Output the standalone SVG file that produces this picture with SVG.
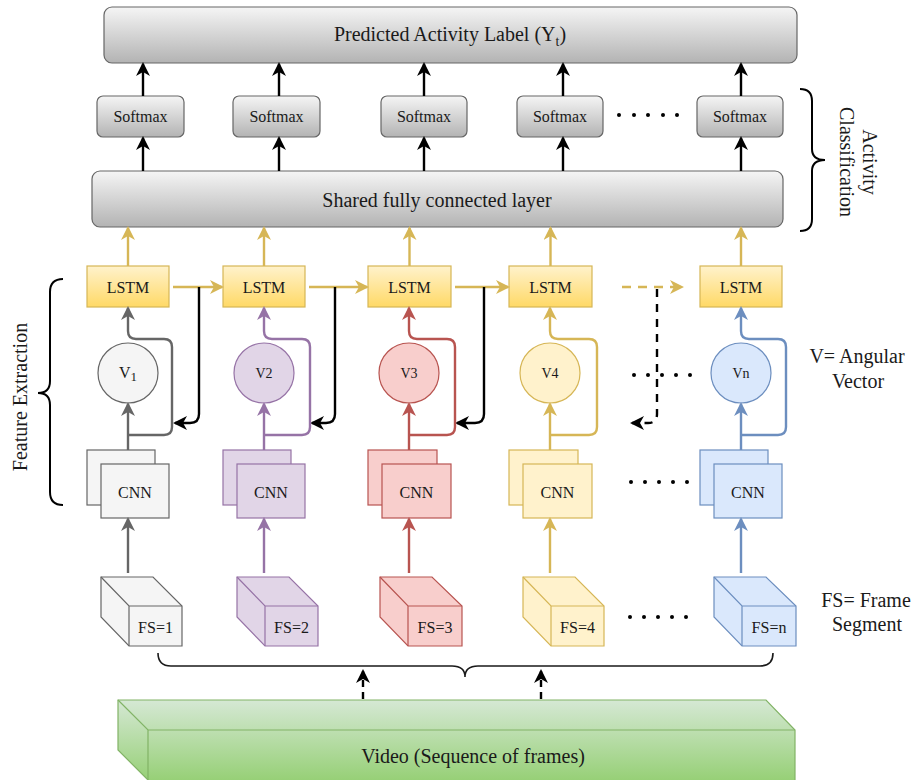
<svg xmlns="http://www.w3.org/2000/svg" width="915" height="780" viewBox="0 0 915 780">
  <defs>
    <linearGradient id="gGray" x1="0" y1="0" x2="0" y2="1">
      <stop offset="0" stop-color="#f5f5f5"/>
      <stop offset="1" stop-color="#b3b3b3"/>
    </linearGradient>
    <linearGradient id="gLstm" x1="0" y1="0" x2="0" y2="1">
      <stop offset="0" stop-color="#fff2cc"/>
      <stop offset="1" stop-color="#ffd966"/>
    </linearGradient>
    <linearGradient id="gVideo" gradientUnits="userSpaceOnUse" x1="0" y1="700" x2="0" y2="780">
      <stop offset="0" stop-color="#d5e8d4"/>
      <stop offset="1" stop-color="#97d077"/>
    </linearGradient>
    <marker id="aBlack" viewBox="0 0 14 14" refX="12" refY="7" markerWidth="14" markerHeight="14" markerUnits="userSpaceOnUse" orient="auto">
      <path d="M0,0 L14,7 L0,14 L4,7 Z" fill="#000"/>
    </marker>
    <marker id="aYellow" viewBox="0 0 14 14" refX="12" refY="7" markerWidth="14" markerHeight="14" markerUnits="userSpaceOnUse" orient="auto">
      <path d="M0,0 L14,7 L0,14 L4,7 Z" fill="#d6b656"/>
    </marker>
    <marker id="aGray" viewBox="0 0 14 14" refX="12" refY="7" markerWidth="14" markerHeight="14" markerUnits="userSpaceOnUse" orient="auto">
      <path d="M0,0 L14,7 L0,14 L4,7 Z" fill="#666666"/>
    </marker>
    <marker id="aPurple" viewBox="0 0 14 14" refX="12" refY="7" markerWidth="14" markerHeight="14" markerUnits="userSpaceOnUse" orient="auto">
      <path d="M0,0 L14,7 L0,14 L4,7 Z" fill="#9673a6"/>
    </marker>
    <marker id="aRed" viewBox="0 0 14 14" refX="12" refY="7" markerWidth="14" markerHeight="14" markerUnits="userSpaceOnUse" orient="auto">
      <path d="M0,0 L14,7 L0,14 L4,7 Z" fill="#b85450"/>
    </marker>
    <marker id="aBlue" viewBox="0 0 14 14" refX="12" refY="7" markerWidth="14" markerHeight="14" markerUnits="userSpaceOnUse" orient="auto">
      <path d="M0,0 L14,7 L0,14 L4,7 Z" fill="#6c8ebf"/>
    </marker>
  </defs>
  <style>
    text { font-family: "Liberation Serif", "Times New Roman", serif; fill: #1a1a1a; }
    .t20 { font-size: 20px; }
    .t16 { font-size: 16px; }
    .t14 { font-size: 14px; }
    .mid { text-anchor: middle; }
    .grayBox { fill: url(#gGray); stroke: #666666; stroke-width: 1.2; }
    .lstm { fill: url(#gLstm); stroke: #d6b656; stroke-width: 1.2; }
    .c1 { fill: #f5f5f5; stroke: #666666; stroke-width: 1.2; }
    .c2 { fill: #e1d5e7; stroke: #9673a6; stroke-width: 1.2; }
    .c3 { fill: #f8cecc; stroke: #b85450; stroke-width: 1.2; }
    .c4 { fill: #fff2cc; stroke: #d6b656; stroke-width: 1.2; }
    .c5 { fill: #dae8fc; stroke: #6c8ebf; stroke-width: 1.2; }
    .ln { fill: none; }
    .edge { fill: none; stroke-width: 2.4; }
    .k { stroke: #000; }
    .y { stroke: #d6b656; }
    .s1 { stroke: #666666; }
    .s2 { stroke: #9673a6; }
    .s3 { stroke: #b85450; }
    .s4 { stroke: #d6b656; }
    .s5 { stroke: #6c8ebf; }
    .brace { fill: none; stroke: #000; stroke-width: 2; }
    .dot { fill: #000; }
  </style>

  <!-- classification head -->
  <g id="predicted-label">
    <rect class="grayBox" x="104" y="7" width="693" height="56" rx="8"/>
    <text class="t20 mid" x="450" y="41">Predicted Activity Label (Y<tspan font-size="14" dy="5">t</tspan><tspan dy="-5">)</tspan></text>
  </g>
  <g id="softmax-1"><rect class="grayBox" x="97" y="96" width="87" height="41" rx="6"/><text class="t16 mid" x="140.5" y="122">Softmax</text></g>
  <g id="softmax-2"><rect class="grayBox" x="233" y="96" width="87" height="41" rx="6"/><text class="t16 mid" x="276.5" y="122">Softmax</text></g>
  <g id="softmax-3"><rect class="grayBox" x="381" y="96" width="86" height="41" rx="6"/><text class="t16 mid" x="424" y="122">Softmax</text></g>
  <g id="softmax-4"><rect class="grayBox" x="517" y="96" width="86" height="41" rx="6"/><text class="t16 mid" x="560" y="122">Softmax</text></g>
  <g id="softmax-n"><rect class="grayBox" x="697" y="96" width="86" height="41" rx="6"/><text class="t16 mid" x="740" y="122">Softmax</text></g>
  <g id="fc-layer">
    <rect class="grayBox" x="92" y="171" width="691" height="56" rx="8"/>
    <text class="t20 mid" x="437" y="207">Shared fully connected layer</text>
  </g>

  <!-- LSTM chain -->
  <g id="lstm-1"><rect class="lstm" x="87" y="266" width="82" height="41"/><text class="t16 mid" x="128" y="293">LSTM</text></g>
  <g id="lstm-2"><rect class="lstm" x="223" y="266" width="82" height="41"/><text class="t16 mid" x="264" y="293">LSTM</text></g>
  <g id="lstm-3"><rect class="lstm" x="368" y="266" width="83" height="41"/><text class="t16 mid" x="409.5" y="293">LSTM</text></g>
  <g id="lstm-4"><rect class="lstm" x="509" y="266" width="83" height="41"/><text class="t16 mid" x="550.5" y="293">LSTM</text></g>
  <g id="lstm-n"><rect class="lstm" x="700" y="266" width="82" height="41"/><text class="t16 mid" x="741" y="293">LSTM</text></g>

  <!-- angular vectors -->
  <g id="v-1"><circle class="c1" cx="128" cy="373" r="30"/><text class="t16 mid" x="128" y="378">V<tspan font-size="13" dy="3">1</tspan></text></g>
  <g id="v-2"><circle class="c2" cx="264" cy="373" r="30"/><text class="t14 mid" x="264" y="378">V2</text></g>
  <g id="v-3"><circle class="c3" cx="409" cy="373" r="30"/><text class="t14 mid" x="409" y="378">V3</text></g>
  <g id="v-4"><circle class="c4" cx="550" cy="373" r="30"/><text class="t14 mid" x="550" y="378">V4</text></g>
  <g id="v-n"><circle class="c5" cx="741" cy="373" r="30"/><text class="t14 mid" x="741" y="378">Vn</text></g>

  <!-- CNN stacks -->
  <g id="cnn-1"><rect class="c1" x="87" y="450" width="68" height="55"/><rect class="c1" x="101" y="464" width="68" height="54"/><text class="t16 mid" x="135" y="498">CNN</text></g>
  <g id="cnn-2"><rect class="c2" x="223" y="450" width="68" height="55"/><rect class="c2" x="237" y="464" width="68" height="54"/><text class="t16 mid" x="271" y="498">CNN</text></g>
  <g id="cnn-3"><rect class="c3" x="368" y="450" width="69" height="55"/><rect class="c3" x="382" y="464" width="69" height="54"/><text class="t16 mid" x="416.5" y="498">CNN</text></g>
  <g id="cnn-4"><rect class="c4" x="509" y="450" width="69" height="55"/><rect class="c4" x="523" y="464" width="69" height="54"/><text class="t16 mid" x="557.5" y="498">CNN</text></g>
  <g id="cnn-n"><rect class="c5" x="700" y="450" width="68" height="55"/><rect class="c5" x="714" y="464" width="68" height="54"/><text class="t16 mid" x="748" y="498">CNN</text></g>

  <!-- frame segments (cubes): outline, then inner edges -->
  <g id="fs-1">
    <path class="c1" d="M101,577 L153,577 L182,606 L182,646 L129,646 L101,617 Z"/>
    <path class="c1 ln" d="M101,577 L129,606 L182,606 M129,606 L129,646"/>
    <text class="t16 mid" x="155.5" y="633">FS=1</text>
  </g>
  <g id="fs-2">
    <path class="c2" d="M237,577 L289,577 L318,606 L318,646 L265,646 L237,617 Z"/>
    <path class="c2 ln" d="M237,577 L265,606 L318,606 M265,606 L265,646"/>
    <text class="t16 mid" x="291.5" y="633">FS=2</text>
  </g>
  <g id="fs-3">
    <path class="c3" d="M380,577 L432,577 L462,606 L462,646 L408,646 L380,617 Z"/>
    <path class="c3 ln" d="M380,577 L408,606 L462,606 M408,606 L408,646"/>
    <text class="t16 mid" x="435" y="633">FS=3</text>
  </g>
  <g id="fs-4">
    <path class="c4" d="M523,577 L575,577 L604,606 L604,646 L551,646 L523,617 Z"/>
    <path class="c4 ln" d="M523,577 L551,606 L604,606 M551,606 L551,646"/>
    <text class="t16 mid" x="577.5" y="633">FS=4</text>
  </g>
  <g id="fs-n">
    <path class="c5" d="M714,577 L766,577 L796,606 L796,646 L742,646 L714,617 Z"/>
    <path class="c5 ln" d="M714,577 L742,606 L796,606 M742,606 L742,646"/>
    <text class="t16 mid" x="769" y="633">FS=n</text>
  </g>

  <!-- input video slab -->
  <g id="video">
    <path d="M118,700 L766,700 L795,730 L795,790 L148,790 L148,780 L118,750 Z" fill="url(#gVideo)" stroke="#82b366" stroke-width="1.2"/>
    <path d="M118,700 L148,730 L795,730 M148,730 L148,790" fill="none" stroke="#82b366" stroke-width="1.2"/>
    <text class="t20 mid" x="473" y="763">Video (Sequence of frames)</text>
  </g>

  <!-- side annotations -->
  <g id="activity-classification">
    <path class="brace" d="M800,89 Q812,89 812,101 L812,149 Q812,160 825,160 Q812,160 812,171 L812,219 Q812,231 800,231"/>
    <text class="t20 mid" transform="translate(863,162) rotate(90)">Activity</text>
    <text class="t20 mid" transform="translate(840,162) rotate(90)">Classification</text>
  </g>
  <g id="feature-extraction">
    <path class="brace" d="M63,279 Q50,279 50,292 L50,381 Q50,393 38,393 Q50,393 50,405 L50,492 Q50,505 63,505"/>
    <text class="t20 mid" transform="translate(27,397) rotate(-90)">Feature Extraction</text>
  </g>
  <g id="legend-v">
    <text class="t20 mid" x="857" y="363">V= Angular</text>
    <text class="t20 mid" x="858" y="388">Vector</text>
  </g>
  <g id="legend-fs">
    <text class="t20 mid" x="866" y="607">FS= Frame</text>
    <text class="t20 mid" x="867" y="631">Segment</text>
  </g>
  <g id="segment-brace">
    <path d="M158,653 Q158,666 171,666 L452,666 Q465,666 465,677 Q465,666 478,666 L760,666 Q773,666 773,653" fill="none" stroke="#1a1a1a" stroke-width="1.6"/>
  </g>

  <!-- ellipsis dots -->
  <g id="ellipsis">
    <circle class="dot" cx="619" cy="115" r="2"/><circle class="dot" cx="634" cy="115" r="2"/><circle class="dot" cx="648" cy="115" r="2"/><circle class="dot" cx="663" cy="115" r="2"/><circle class="dot" cx="677" cy="115" r="2"/>
    <circle class="dot" cx="634" cy="375" r="2"/><circle class="dot" cx="648" cy="375" r="2"/><circle class="dot" cx="662" cy="375" r="2"/><circle class="dot" cx="676" cy="375" r="2"/><circle class="dot" cx="690" cy="375" r="2"/>
    <circle class="dot" cx="631" cy="482" r="2"/><circle class="dot" cx="645" cy="482" r="2"/><circle class="dot" cx="659" cy="482" r="2"/><circle class="dot" cx="673" cy="482" r="2"/><circle class="dot" cx="687" cy="482" r="2"/>
    <circle class="dot" cx="630" cy="617" r="2"/><circle class="dot" cx="644" cy="617" r="2"/><circle class="dot" cx="658" cy="617" r="2"/><circle class="dot" cx="672" cy="617" r="2"/><circle class="dot" cx="686" cy="617" r="2"/>
  </g>

  <!-- connectors -->
  <g id="connectors">
    <!-- softmax to label, fc to softmax -->
    <path class="edge k" d="M143,96 L143,64" marker-end="url(#aBlack)"/>
    <path class="edge k" d="M279,96 L279,64" marker-end="url(#aBlack)"/>
    <path class="edge k" d="M424,96 L424,64" marker-end="url(#aBlack)"/>
    <path class="edge k" d="M563,96 L563,64" marker-end="url(#aBlack)"/>
    <path class="edge k" d="M741,96 L741,64" marker-end="url(#aBlack)"/>
    <path class="edge k" d="M143,171 L143,138" marker-end="url(#aBlack)"/>
    <path class="edge k" d="M279,171 L279,138" marker-end="url(#aBlack)"/>
    <path class="edge k" d="M424,171 L424,138" marker-end="url(#aBlack)"/>
    <path class="edge k" d="M563,171 L563,138" marker-end="url(#aBlack)"/>
    <path class="edge k" d="M741,171 L741,138" marker-end="url(#aBlack)"/>

    <!-- lstm to fc -->
    <path class="edge y" d="M128,266 L128,228" marker-end="url(#aYellow)"/>
    <path class="edge y" d="M264,266 L264,228" marker-end="url(#aYellow)"/>
    <path class="edge y" d="M409.5,266 L409.5,228" marker-end="url(#aYellow)"/>
    <path class="edge y" d="M550.5,266 L550.5,228" marker-end="url(#aYellow)"/>
    <path class="edge y" d="M741,266 L741,228" marker-end="url(#aYellow)"/>

    <!-- recurrent links -->
    <path class="edge y" d="M173,287 L222,287" marker-end="url(#aYellow)"/>
    <path class="edge y" d="M309,287 L367,287" marker-end="url(#aYellow)"/>
    <path class="edge y" d="M455,287 L508,287" marker-end="url(#aYellow)"/>
    <path class="edge y" d="M622,287 L682,287" stroke-dasharray="9 7" marker-end="url(#aYellow)"/>

    <!-- hidden state feedback -->
    <path class="edge k" d="M199,287 L199,414 Q199,423 190,423 L175,423" marker-end="url(#aBlack)"/>
    <path class="edge k" d="M335,287 L335,414 Q335,423 326,423 L312,423" marker-end="url(#aBlack)"/>
    <path class="edge k" d="M484,287 L484,414 Q484,423 475,423 L457,423" marker-end="url(#aBlack)"/>
    <path class="edge k" d="M657,289 L657,414 Q657,423 648,423 L632,423" stroke-dasharray="8 7" marker-end="url(#aBlack)"/>

    <!-- cnn to vector, bypass to lstm -->
    <path class="edge s1" d="M128,450 L128,404" marker-end="url(#aGray)"/>
    <path class="edge s1" d="M128,435 L164,435 Q172,435 172,427 L172,347 Q172,339 164,339 L136,339 Q128,339 128,331 L128,308" marker-end="url(#aGray)"/>
    <path class="edge s2" d="M264,450 L264,404" marker-end="url(#aPurple)"/>
    <path class="edge s2" d="M264,435 L302,435 Q310,435 310,427 L310,347 Q310,339 302,339 L272,339 Q264,339 264,331 L264,308" marker-end="url(#aPurple)"/>
    <path class="edge s3" d="M409,450 L409,404" marker-end="url(#aRed)"/>
    <path class="edge s3" d="M409,435 L447,435 Q455,435 455,427 L455,347 Q455,339 447,339 L417,339 Q409,339 409,331 L409,308" marker-end="url(#aRed)"/>
    <path class="edge s4" d="M550,450 L550,404" marker-end="url(#aYellow)"/>
    <path class="edge s4" d="M550,435 L589,435 Q597,435 597,427 L597,347 Q597,339 589,339 L558,339 Q550,339 550,331 L550,308" marker-end="url(#aYellow)"/>
    <path class="edge s5" d="M741,450 L741,404" marker-end="url(#aBlue)"/>
    <path class="edge s5" d="M741,435 L778,435 Q786,435 786,427 L786,347 Q786,339 778,339 L749,339 Q741,339 741,331 L741,308" marker-end="url(#aBlue)"/>

    <!-- frame segment to cnn -->
    <path class="edge s1" d="M128,573 L128,519" marker-end="url(#aGray)"/>
    <path class="edge s2" d="M264,573 L264,519" marker-end="url(#aPurple)"/>
    <path class="edge s3" d="M409,573 L409,519" marker-end="url(#aRed)"/>
    <path class="edge s4" d="M550,573 L550,519" marker-end="url(#aYellow)"/>
    <path class="edge s5" d="M741,573 L741,519" marker-end="url(#aBlue)"/>

    <!-- video to segments -->
    <path class="edge k" d="M363,699 L363,671" stroke-dasharray="7 5" marker-end="url(#aBlack)"/>
    <path class="edge k" d="M541,699 L541,671" stroke-dasharray="7 5" marker-end="url(#aBlack)"/>
  </g>
</svg>
